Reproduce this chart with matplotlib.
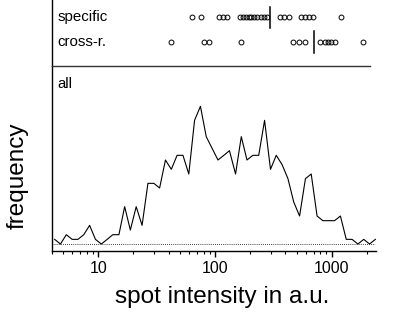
import matplotlib
matplotlib.use("Agg")
import matplotlib.pyplot as plt
from matplotlib.ticker import LogLocator, NullFormatter, FixedLocator, FixedFormatter

plt.rcParams['font.family'] = ['Liberation Sans', 'DejaVu Sans']

# histogram of all spots (log-binned intensity, frequency)
hist_x = [4.22, 4.73, 5.31, 5.96, 6.68, 7.50, 8.41, 9.44, 10.6, 11.9, 13.3, 15.0,
          16.8, 18.8, 21.1, 23.7, 26.6, 29.9, 33.5, 37.6, 42.2, 47.3, 53.1, 59.6,
          66.8, 75.0, 84.1, 94.4, 106, 119, 133, 150, 168, 188, 211, 237,
          266, 299, 335, 376, 422, 473, 531, 596, 668, 750, 841, 944,
          1059, 1189, 1334, 1496, 1679, 1884, 2113, 2371]
hist_y = [1, 0, 2, 1, 1, 2, 4, 1, 0, 1, 2, 2,
          8, 3, 8, 4, 13, 13, 12, 18, 16, 19, 19, 15,
          26.5, 29.5, 23, 20.5, 18, 19, 20, 15, 23, 18, 19, 19,
          26.5, 16, 19, 17, 14, 9, 6, 14, 15, 6, 5, 5,
          5, 6, 1, 1, 0, 1, 0, 1]

specific = [63.8, 75.3, 109, 116, 126, 164, 175, 185, 195, 205, 216, 231, 247,
            263, 281, 361, 390, 428, 550, 588, 636, 688, 1202]
specific_median = 298
cross = [42, 81, 89, 167, 469, 528, 594, 794, 882, 930, 994, 1062, 1866]
cross_median = 710

row_labels = ["specific", "cross-r."]
tick_vals = [10, 100, 1000]
tick_labels = ["10", "100", "1000"]

W, H = 400, 320
fig = plt.figure(figsize=(4, 3.2), dpi=100)

left = 51.7 / W
right = 376.0 / W
bot_y0 = (H - 250.7) / H
bot_y1 = (H - 65.7) / H

ax = fig.add_axes([left, bot_y0, right - left, bot_y1 - bot_y0])
axt = fig.add_axes([left, bot_y1, right - left, 1 - bot_y1], sharex=ax)

xlim = (3.98, 2400)
ax.set_xscale('log')
ax.set_xlim(*xlim)
ax.set_ylim(-1.43, 38.2)

ax.plot(hist_x, hist_y, color='black', lw=0.8)
ax.plot([xlim[0], hist_x[-1]], [0, 0], color='black', lw=0.6, ls=(0, (1, 1.5)))

for s in ['top', 'right']:
    ax.spines[s].set_visible(False)
ax.spines['left'].set_linewidth(1.0)
ax.spines['bottom'].set_linewidth(1.0)
ax.set_yticks([])
ax.xaxis.set_major_locator(FixedLocator(tick_vals))
ax.xaxis.set_major_formatter(FixedFormatter(tick_labels))
ax.xaxis.set_minor_locator(LogLocator(base=10, subs=[2, 3, 4, 5, 6, 7, 8, 9], numticks=20))
ax.xaxis.set_minor_formatter(NullFormatter())
ax.tick_params(axis='x', which='major', direction='out', length=4, width=1.0,
               labelsize=11.5, pad=3.5)
ax.tick_params(axis='x', which='minor', direction='out', length=2.5, width=0.8)
ax.text(0.017, 0.90, "all", transform=ax.transAxes, fontsize=10.8,
        ha='left', va='center')

# top strip
axt.set_ylim(-0.967, 1.714)
for s in ['top', 'right']:
    axt.spines[s].set_visible(False)
axt.spines['bottom'].set_bounds(xlim[0], 2128)
axt.spines['left'].set_linewidth(1.0)
axt.spines['bottom'].set_linewidth(1.0)
axt.spines['bottom'].set_color('#333333')
axt.set_yticks([])
axt.tick_params(axis='x', which='both', bottom=False, labelbottom=False)

axt.plot(specific, [1] * len(specific), ls='none', marker='o', ms=3.5,
         mfc='none', mec='black', mew=0.7)
axt.plot(cross, [0] * len(cross), ls='none', marker='o', ms=3.5,
         mfc='none', mec='black', mew=0.7)
axt.plot([specific_median, specific_median], [1 - 0.42, 1 + 0.42], color='black', lw=1.1)
axt.plot([cross_median, cross_median], [-0.45, 0.45], color='black', lw=1.1)

axt.text(0.017, 1, row_labels[0], transform=axt.get_yaxis_transform(),
         fontsize=10.8, ha='left', va='center')
axt.text(0.017, 0, row_labels[1], transform=axt.get_yaxis_transform(),
         fontsize=10.8, ha='left', va='center')

fig.text(222 / W, 1 - 296.7 / H, "spot intensity in a.u.", fontsize=17.5,
         ha='center', va='center')
fig.text(18 / W, 1 - 175.5 / H, "frequency", fontsize=17.5, rotation=90,
         ha='center', va='center')

fig.savefig("out.png", dpi=100)
